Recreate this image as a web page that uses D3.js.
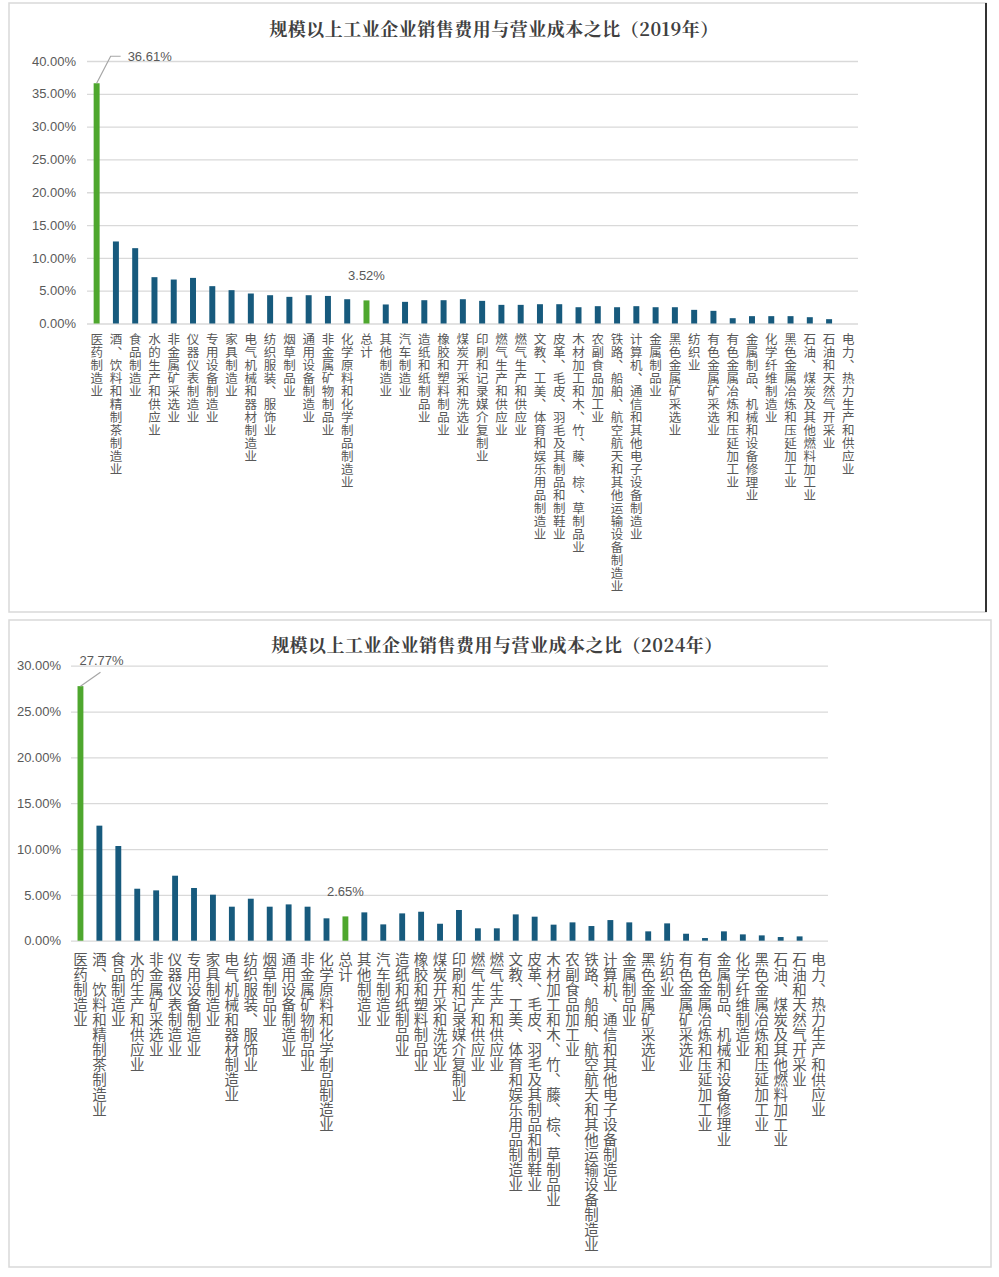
<!DOCTYPE html>
<html>
<head>
<meta charset="utf-8">
<title>规模以上工业企业销售费用与营业成本之比</title>
<script src="https://cdnjs.cloudflare.com/ajax/libs/d3/7.8.5/d3.min.js"></script>
<style>
  body { margin: 0; background: #fff; }
  svg { display: block; }
</style>
</head>
<body>
<script>
// categories, same order in both years
var categories = [
  "医药制造业", "酒、饮料和精制茶制造业", "食品制造业", "水的生产和供应业", "非金属矿采选业",
  "仪器仪表制造业", "专用设备制造业", "家具制造业", "电气机械和器材制造业", "纺织服装、服饰业",
  "烟草制品业", "通用设备制造业", "非金属矿物制品业", "化学原料和化学制品制造业", "总计",
  "其他制造业", "汽车制造业", "造纸和纸制品业", "橡胶和塑料制品业", "煤炭开采和洗选业",
  "印刷和记录媒介复制业", "燃气生产和供应业", "燃气生产和供应业", "文教、工美、体育和娱乐用品制造业",
  "皮革、毛皮、羽毛及其制品和制鞋业", "木材加工和木、竹、藤、棕、草制品业", "农副食品加工业",
  "铁路、船舶、航空航天和其他运输设备制造业", "计算机、通信和其他电子设备制造业", "金属制品业",
  "黑色金属矿采选业", "纺织业", "有色金属矿采选业", "有色金属冶炼和压延加工业",
  "金属制品、机械和设备修理业", "化学纤维制造业", "黑色金属冶炼和压延加工业",
  "石油、煤炭及其他燃料加工业", "石油和天然气开采业", "电力、热力生产和供应业"
];

// values in %
var values2019 = [
  36.61, 12.50, 11.48, 7.06, 6.70, 6.95, 5.69, 5.08, 4.57, 4.31,
  4.06, 4.31, 4.20, 3.70, 3.52, 2.90, 3.30, 3.55, 3.55, 3.70,
  3.45, 2.84, 2.84, 2.94, 2.94, 2.48, 2.64, 2.48, 2.64, 2.48,
  2.48, 2.08, 1.93, 0.81, 1.12, 1.12, 1.12, 0.96, 0.66, 0
];
var values2024 = [
  27.77, 12.55, 10.33, 5.67, 5.49, 7.09, 5.75, 5.02, 3.71, 4.58,
  3.71, 3.96, 3.71, 2.44, 2.65, 3.09, 1.78, 2.98, 3.16, 1.85,
  3.35, 1.35, 1.35, 2.87, 2.62, 1.75, 2.00, 1.60, 2.25, 2.00,
  1.02, 1.89, 0.76, 0.29, 1.02, 0.69, 0.58, 0.40, 0.47, 0
];

var ticks2019 = [0, 5, 10, 15, 20, 25, 30, 35, 40];
var ticks2024 = [0, 5, 10, 15, 20, 25, 30];

// bars drawn in green and labelled
var highlighted = ["医药制造业", "总计"];

var blue = "#175a7d";
var green = "#4ea72e";
var grey = "#595959";
var gridColor = "#d9d9d9";

var svg = d3.select("body").append("svg")
    .attr("width", 999)
    .attr("height", 1277);

function drawChart(opt) {
  // frame
  svg.append("rect")
      .attr("x", opt.frame[0]).attr("y", opt.frame[1])
      .attr("width", opt.frame[2]).attr("height", opt.frame[3])
      .attr("fill", "#fff")
      .attr("stroke", "#d9d9d9")
      .attr("stroke-width", 1.5);
  if (opt.darkRight) {
    svg.append("line")
        .attr("x1", opt.frame[0] + opt.frame[2]).attr("x2", opt.frame[0] + opt.frame[2])
        .attr("y1", opt.frame[1]).attr("y2", opt.frame[1] + opt.frame[3])
        .attr("stroke", "#333").attr("stroke-width", 2);
  }

  svg.append("text")
      .attr("x", opt.titleX).attr("y", opt.titleY)
      .attr("text-anchor", "middle")
      .attr("font-family", "'Noto Serif CJK SC', 'Noto Sans CJK SC', serif")
      .attr("font-weight", "bold")
      .attr("font-size", 18)
      .attr("letter-spacing", 0.5)
      .attr("fill", "#404040")
      .text(opt.title);

  var x = d3.scaleBand()
      .domain(d3.range(categories.length))
      .range([opt.left, opt.right])
      .paddingInner(0.69)
      .paddingOuter(0.345);

  var y = d3.scaleLinear()
      .domain([0, d3.max(opt.ticks)])
      .range([opt.bottom, opt.top]);

  var g = svg.append("g");

  // gridlines + y labels
  var yAxis = d3.axisLeft(y)
      .tickValues(opt.ticks)
      .tickSize(-(opt.right - opt.left))
      .tickPadding(opt.tickPad)
      .tickFormat(function(d) { return d3.format(".2f")(d) + "%"; });

  var ya = g.append("g")
      .attr("transform", "translate(" + opt.left + ",0)")
      .call(yAxis);
  ya.select(".domain").remove();
  ya.selectAll(".tick line").attr("stroke", gridColor).attr("stroke-width", 1.3);
  ya.selectAll(".tick text")
      .attr("fill", grey)
      .attr("font-family", "'Liberation Sans', Arial, sans-serif")
      .attr("font-size", 13);

  // bars
  g.selectAll("rect.bar")
      .data(opt.values)
      .enter()
      .append("rect")
      .attr("class", "bar")
      .attr("x", function(d, i) { return x(i); })
      .attr("y", function(d) { return y(d); })
      .attr("width", x.bandwidth())
      .attr("height", function(d) { return y(0) - y(d); })
      .attr("fill", function(d, i) {
        return highlighted.indexOf(categories[i]) !== -1 ? green : blue;
      });

  // category labels, vertical
  g.selectAll("text.cat")
      .data(categories)
      .enter()
      .append("text")
      .attr("class", "cat")
      .attr("x", function(d, i) { return x(i) + x.bandwidth() / 2; })
      .attr("y", opt.bottom + opt.labelGap)
      .style("writing-mode", "vertical-rl")
      .attr("font-family", "'Noto Sans CJK SC', sans-serif")
      .attr("font-size", opt.labelSize)
      .attr("letter-spacing", opt.labelSpacing)
      .attr("fill", grey)
      .text(function(d) { return d; });

  // data labels for the highlighted bars
  var first = 0;
  var total = categories.indexOf("总计");
  var cx0 = x(first) + x.bandwidth() / 2;
  g.append("path")
      .attr("d", opt.leader(cx0, y(opt.values[first])))
      .attr("fill", "none")
      .attr("stroke", "#a6a6a6")
      .attr("stroke-width", 1.2);
  g.append("text")
      .attr("x", opt.firstLabel(cx0, y(opt.values[first]))[0])
      .attr("y", opt.firstLabel(cx0, y(opt.values[first]))[1])
      .attr("fill", grey)
      .attr("font-family", "'Liberation Sans', Arial, sans-serif")
      .attr("font-size", 13)
      .text(d3.format(".2f")(opt.values[first]) + "%");

  g.append("text")
      .attr("x", x(total) + x.bandwidth() / 2)
      .attr("y", y(opt.values[total]) - 20)
      .attr("text-anchor", "middle")
      .attr("fill", grey)
      .attr("font-family", "'Liberation Sans', Arial, sans-serif")
      .attr("font-size", 13)
      .text(d3.format(".2f")(opt.values[total]) + "%");
}

drawChart({
  title: "规模以上工业企业销售费用与营业成本之比（2019年）",
  titleX: 494, titleY: 36,
  frame: [9, 3, 977, 609],
  darkRight: true,
  values: values2019,
  ticks: ticks2019,
  left: 87, right: 858, top: 61, bottom: 323.5,
  tickPad: 11,
  labelGap: 9, labelSize: 12.5, labelSpacing: 0.5,
  leader: function(cx, cy) {
    return "M" + cx + "," + cy + "L" + (cx + 14) + "," + (cy - 27) + "H" + (cx + 24);
  },
  firstLabel: function(cx, cy) { return [cx + 31, cy - 22]; }
});

drawChart({
  title: "规模以上工业企业销售费用与营业成本之比（2024年）",
  titleX: 497, titleY: 652,
  frame: [9, 620, 982, 647],
  darkRight: false,
  values: values2024,
  ticks: ticks2024,
  left: 71, right: 828, top: 665.7, bottom: 940.7,
  tickPad: 10,
  labelGap: 12, labelSize: 14.5, labelSpacing: 0.5,
  leader: function(cx, cy) {
    return "M" + cx + "," + cy + "L" + (cx + 20) + "," + (cy - 14);
  },
  firstLabel: function(cx, cy) { return [cx - 1, cy - 21]; }
});
</script>
</body>
</html>
